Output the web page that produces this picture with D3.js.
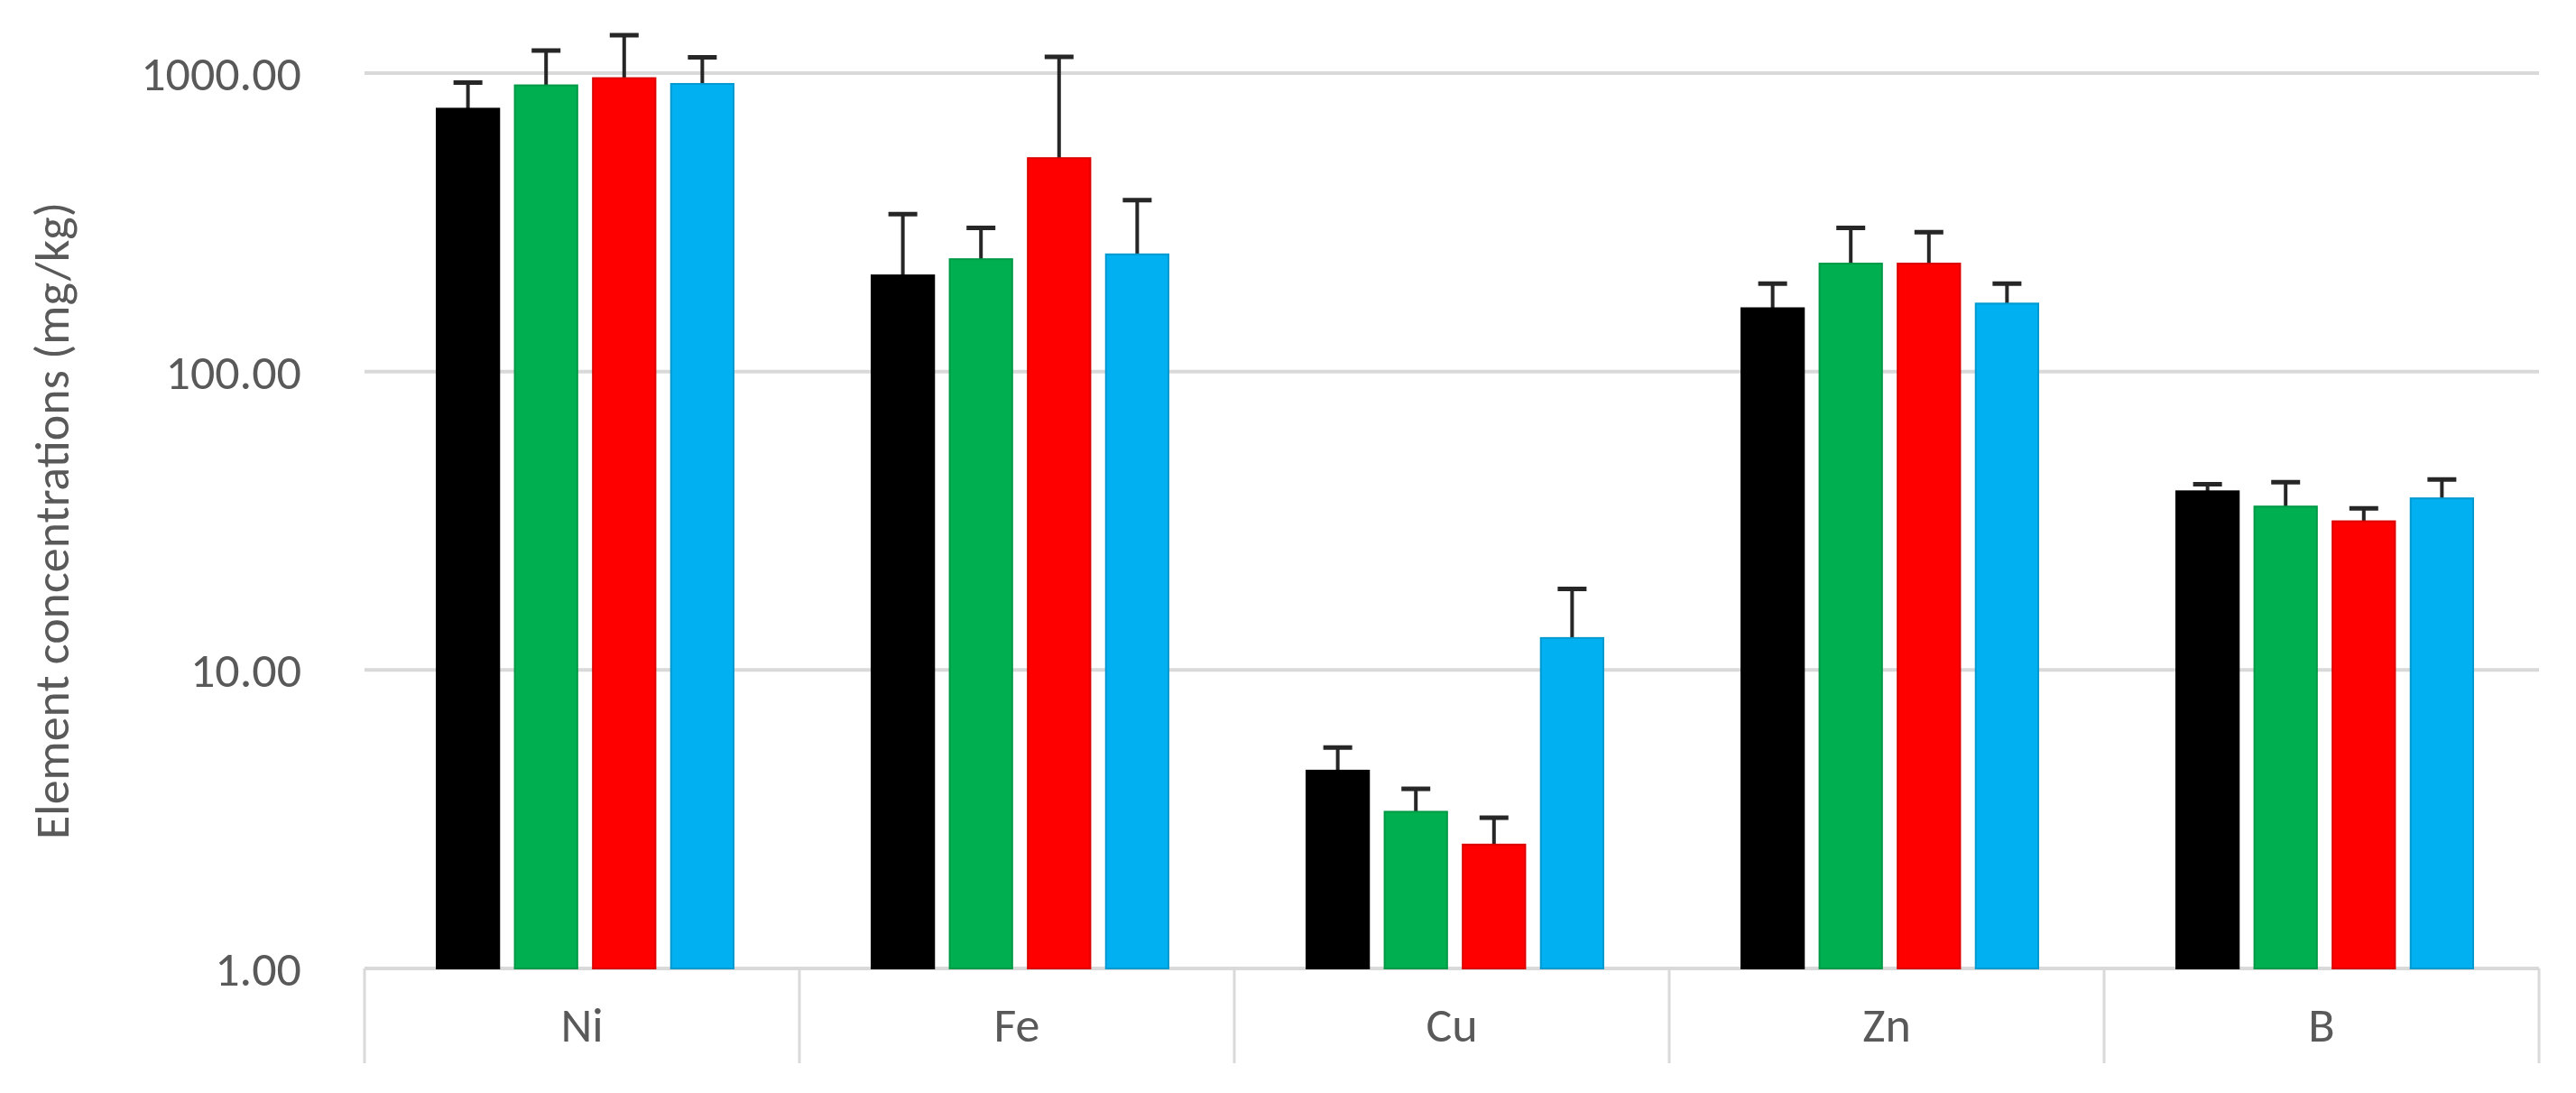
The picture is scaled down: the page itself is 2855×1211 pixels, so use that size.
<!DOCTYPE html>
<html>
<head>
<meta charset="utf-8">
<script src="https://cdn.jsdelivr.net/npm/d3@7"></script>
<style>
  body { margin: 0; background: #fff; }
  text { font-family: Calibri, Carlito, "Open Sans", sans-serif; fill: #595959; }
</style>
</head>
<body>
<script>
const elements = ["Ni", "Fe", "Cu", "Zn", "B"];
const seriesNames = ["s1", "s2", "s3", "s4"];
const colors = ["#000000", "#00b050", "#ff0000", "#00b0f0"];
// mean values per series, ordered as elements
const s1 = [760, 210, 4.6, 163, 39.7];
const s2 = [910, 238, 3.35, 230, 35.3];
const s3 = [962, 519, 2.6, 230, 31.5];
const s4 = [920, 247, 12.8, 169, 37.6];
// top of error bar per series
const e1 = [930, 337, 5.5, 197, 41.9];
const e2 = [1190, 303, 4.0, 303, 42.6];
const e3 = [1340, 1133, 3.2, 293, 34.8];
const e4 = [1130, 375, 18.7, 197, 43.5];
const yTicks = [1, 10, 100, 1000];

const values = [s1, s2, s3, s4];
const errors = [e1, e2, e3, e4];

const width = 2855, height = 1211;
const margin = { top: 81, right: 41, bottom: 138, left: 404 };

const svg = d3.select("body").append("svg")
    .attr("width", width)
    .attr("height", height);

const x0 = d3.scaleBand()
    .domain(elements)
    .range([margin.left, width - margin.right]);

const x1 = d3.scaleBand()
    .domain(seriesNames)
    .range([80, x0.bandwidth() - 73])
    .paddingInner(0.2);

const y = d3.scaleLog()
    .domain([1, 1000])
    .range([height - margin.bottom, margin.top]);

// gridlines
svg.append("g")
    .selectAll("line")
    .data(yTicks)
    .enter().append("line")
    .attr("x1", margin.left)
    .attr("x2", width - margin.right)
    .attr("y1", d => y(d))
    .attr("y2", d => y(d))
    .style("stroke", "#d9d9d9")
    .style("stroke-width", 4);

// y tick labels
svg.append("g")
    .selectAll("text")
    .data(yTicks)
    .enter().append("text")
    .attr("x", 334)
    .attr("y", d => y(d))
    .attr("dy", "0.35em")
    .attr("text-anchor", "end")
    .style("font-size", "54px")
    .text(d => d3.format(".2f")(d));

// y title
svg.append("text")
    .attr("transform", "translate(57," + (y(1) + y(1000)) / 2 + ") rotate(-90)")
    .attr("text-anchor", "middle")
    .attr("dy", "0.35em")
    .style("font-size", "54px")
    .text("Element concentrations (mg/kg)");

// category box below axis
const boxBottom = 1178;
const bounds = elements.map(d => x0(d)).concat([width - margin.right]);
svg.append("g")
    .selectAll("line")
    .data(bounds)
    .enter().append("line")
    .attr("x1", d => d)
    .attr("x2", d => d)
    .attr("y1", y(1))
    .attr("y2", boxBottom)
    .style("stroke", "#d9d9d9")
    .style("stroke-width", 3);

svg.append("g")
    .selectAll("text")
    .data(elements)
    .enter().append("text")
    .attr("x", d => x0(d) + x0.bandwidth() / 2)
    .attr("y", 1135)
    .attr("dy", "0.35em")
    .attr("text-anchor", "middle")
    .style("font-size", "54px")
    .text(d => d);

// bars and error bars
const group = svg.selectAll("g.group")
    .data(elements)
    .enter().append("g")
    .attr("class", "group")
    .attr("transform", d => "translate(" + x0(d) + ",0)");

group.each(function (el, ei) {
    const g = d3.select(this);
    seriesNames.forEach((s, si) => {
        const v = values[si][ei];
        const e = errors[si][ei];
        const cx = x1(s) + x1.bandwidth() / 2;
        g.append("line")
            .attr("x1", cx).attr("x2", cx)
            .attr("y1", y(v)).attr("y2", y(e))
            .style("stroke", "#262626")
            .style("stroke-width", 4);
        g.append("line")
            .attr("x1", cx - 16).attr("x2", cx + 16)
            .attr("y1", y(e)).attr("y2", y(e))
            .style("stroke", "#262626")
            .style("stroke-width", 5);
        g.append("rect")
            .attr("x", x1(s))
            .attr("y", y(v))
            .attr("width", x1.bandwidth())
            .attr("height", y(1) - y(v))
            .style("fill", colors[si])
            .style("stroke", d3.color(colors[si]).darker(0.4))
            .style("stroke-width", 2);
    });
});
</script>
</body>
</html>
